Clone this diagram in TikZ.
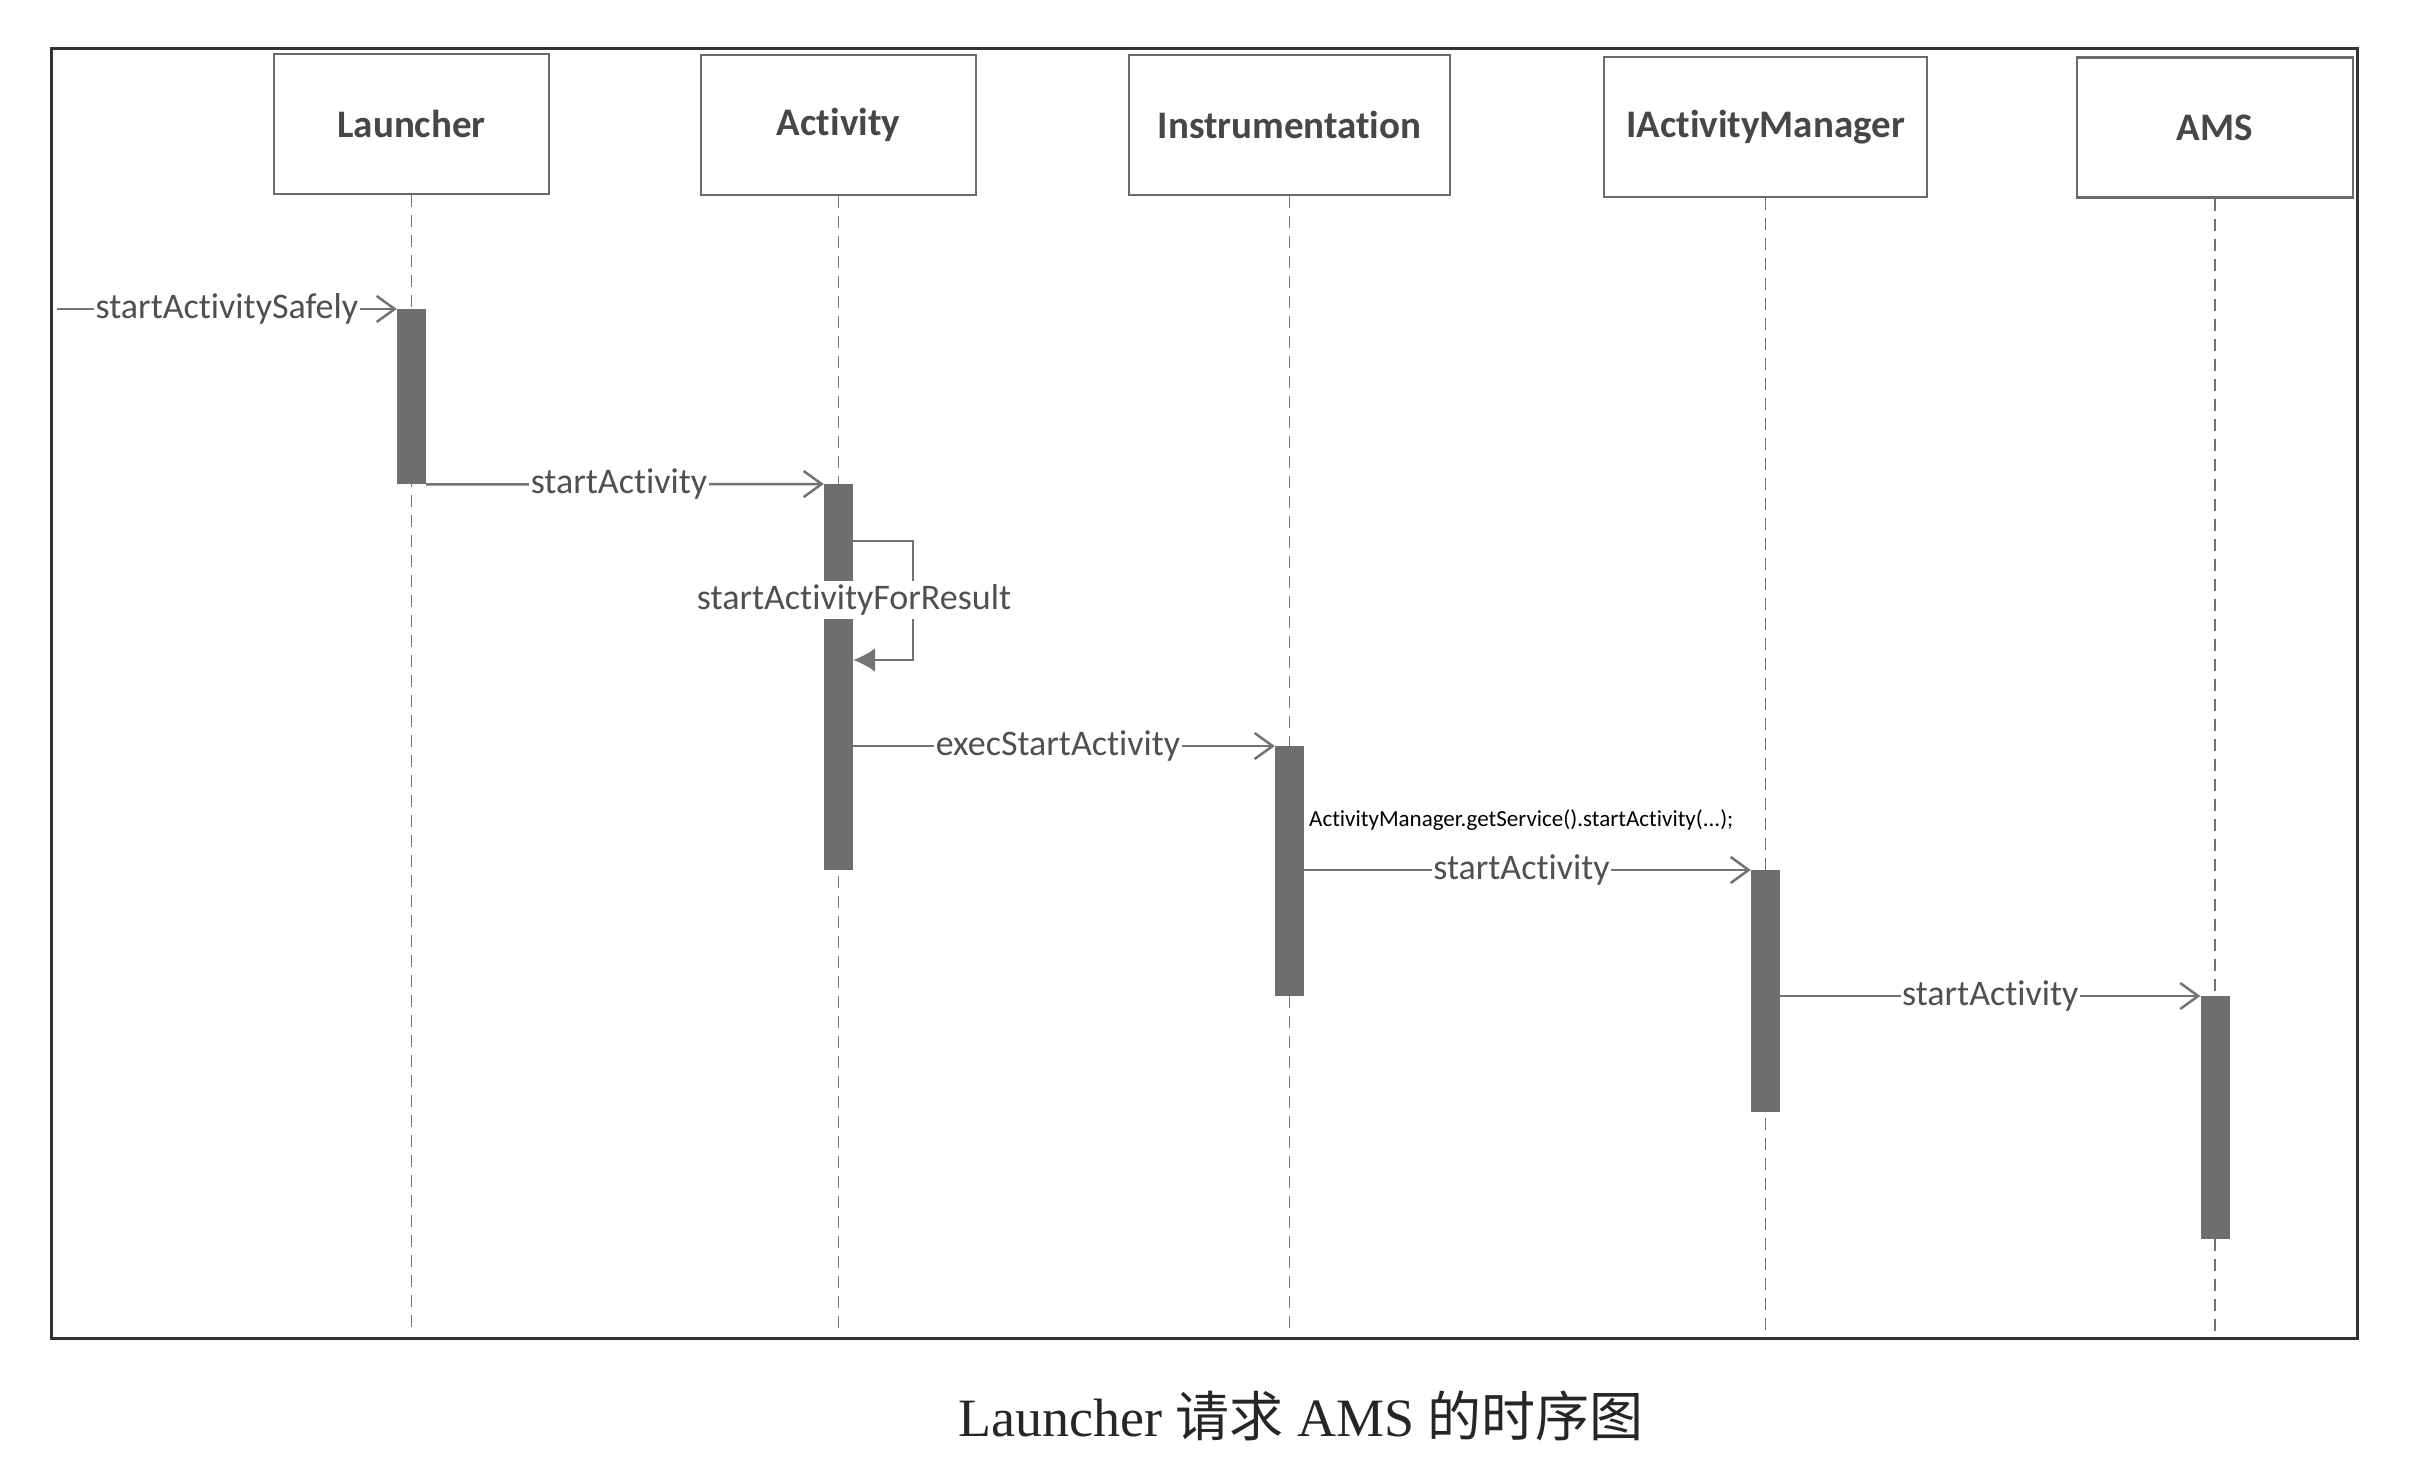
\documentclass[tikz,border=0pt]{standalone}
\usepackage{fontspec}
\setmainfont{Liberation Serif}
\newfontfamily\calfont[Ligatures=NoCommon]{Carlito}
\newfontfamily\cjkfont{Noto Sans CJK SC}
\usetikzlibrary{arrows.meta}
\definecolor{boxline}{HTML}{6A6A6A}
\definecolor{msgline}{HTML}{737373}
\definecolor{lbltext}{HTML}{505050}
\definecolor{namtext}{HTML}{474747}
\definecolor{barfill}{HTML}{6E6E6E}
\begin{document}
\begin{tikzpicture}[x=1pt,y=-1pt,
  actor/.style={draw=boxline,line width=2.5pt,fill=white,minimum height=140pt,inner sep=0pt,
    font=\calfont\bfseries\fontsize{39}{44}\selectfont,text=namtext},
  life/.style={draw=msgline,line width=1.8pt,dash pattern=on 12pt off 8pt},
  actbar/.style={fill=barfill,draw=none,minimum width=29pt,inner sep=0pt,anchor=north},
  msg/.style={draw=msgline,line width=2.5pt,-{Straight Barb[length=18pt,width=26pt,line width=2.5pt]}},
  selfmsg/.style={draw=msgline,line width=2.5pt,-{Latex[length=22pt,width=24pt]}},
  lbl/.style={fill=white,inner sep=1.5pt,text=lbltext,font=\calfont\fontsize{36}{40}\selectfont},
  note/.style={anchor=west,inner sep=0pt,text=black,font=\calfont\fontsize{23}{27}\selectfont},
  caption/.style={inner sep=0pt,text=black!85,font=\fontsize{54}{60}\selectfont}]
\useasboundingbox (0,0) rectangle (2411,1480);
\fill[white] (0,0) rectangle (2411,1480);
% frame
\draw[line width=3pt,draw=black!80] (51,49) rectangle (2357,1338);
% actors
\node[actor,minimum width=275pt] (L) at (411.5,124) {Launcher};
\node[actor,minimum width=275pt] (A) at (838.5,125) {Activity};
\node[actor,minimum width=321pt] (I) at (1289.5,125) {Instrumentation};
\node[actor,minimum width=323pt] (M) at (1765.5,127) {IActivityManager};
\node[actor,minimum width=276pt] (S) at (2215,127.5) {AMS};
% lifelines
\coordinate (bot) at (0,1332);
\draw[life] (L.south) -- (L.south |- bot);
\draw[life] (A.south) -- (A.south |- bot);
\draw[life] (I.south) -- (I.south |- bot);
\draw[life] (M.south) -- (M.south |- bot);
\draw[life] (S.south) -- (S.south |- bot);
% activation bars
\node[actbar,minimum height=175pt] (lb) at (L.south |- 0,309) {};
\node[actbar,minimum height=386pt] (ab) at (A.south |- 0,484) {};
\node[actbar,minimum height=250pt] (ib) at (I.south |- 0,746) {};
\node[actbar,minimum height=242pt] (mb) at (M.south |- 0,870) {};
\node[actbar,minimum height=243pt] (sb) at (S.south |- 0,996) {};
% messages
\coordinate (src) at (57,309);
\draw[msg] (src) -- node[lbl] {startActivitySafely} (lb.north west);
\draw[msg] (lb.south east) -- node[lbl,xshift=-6pt] {startActivity} (ab.north west);
\coordinate (s1) at (ab.east |- 0,541);
\coordinate (s2) at (913,541);
\coordinate (s3) at (913,660);
\coordinate (s4) at (ab.east |- 0,660);
\draw[selfmsg] (s1) -- (s2) -- (s3) -- (s4);
\node[lbl,inner sep=4pt] (fr) at (854,600) {startActivityForResult};
\draw[msg] (ab.east |- ib.north) -- node[lbl,xshift=-6pt] {execStartActivity} (ib.north west);
\node[note] (nt) at (1309,820) {ActivityManager.getService().startActivity(...);};
\draw[msg] (ib.east |- mb.north) -- node[lbl,xshift=-6pt] {startActivity} (mb.north west);
\draw[msg] (mb.east |- sb.north) -- node[lbl] {startActivity} (sb.north west);
% caption
\node[caption] (cap) at (1301,1416) {Launcher {\cjkfont 请求} AMS {\cjkfont 的时序图}};
\end{tikzpicture}
\end{document}
